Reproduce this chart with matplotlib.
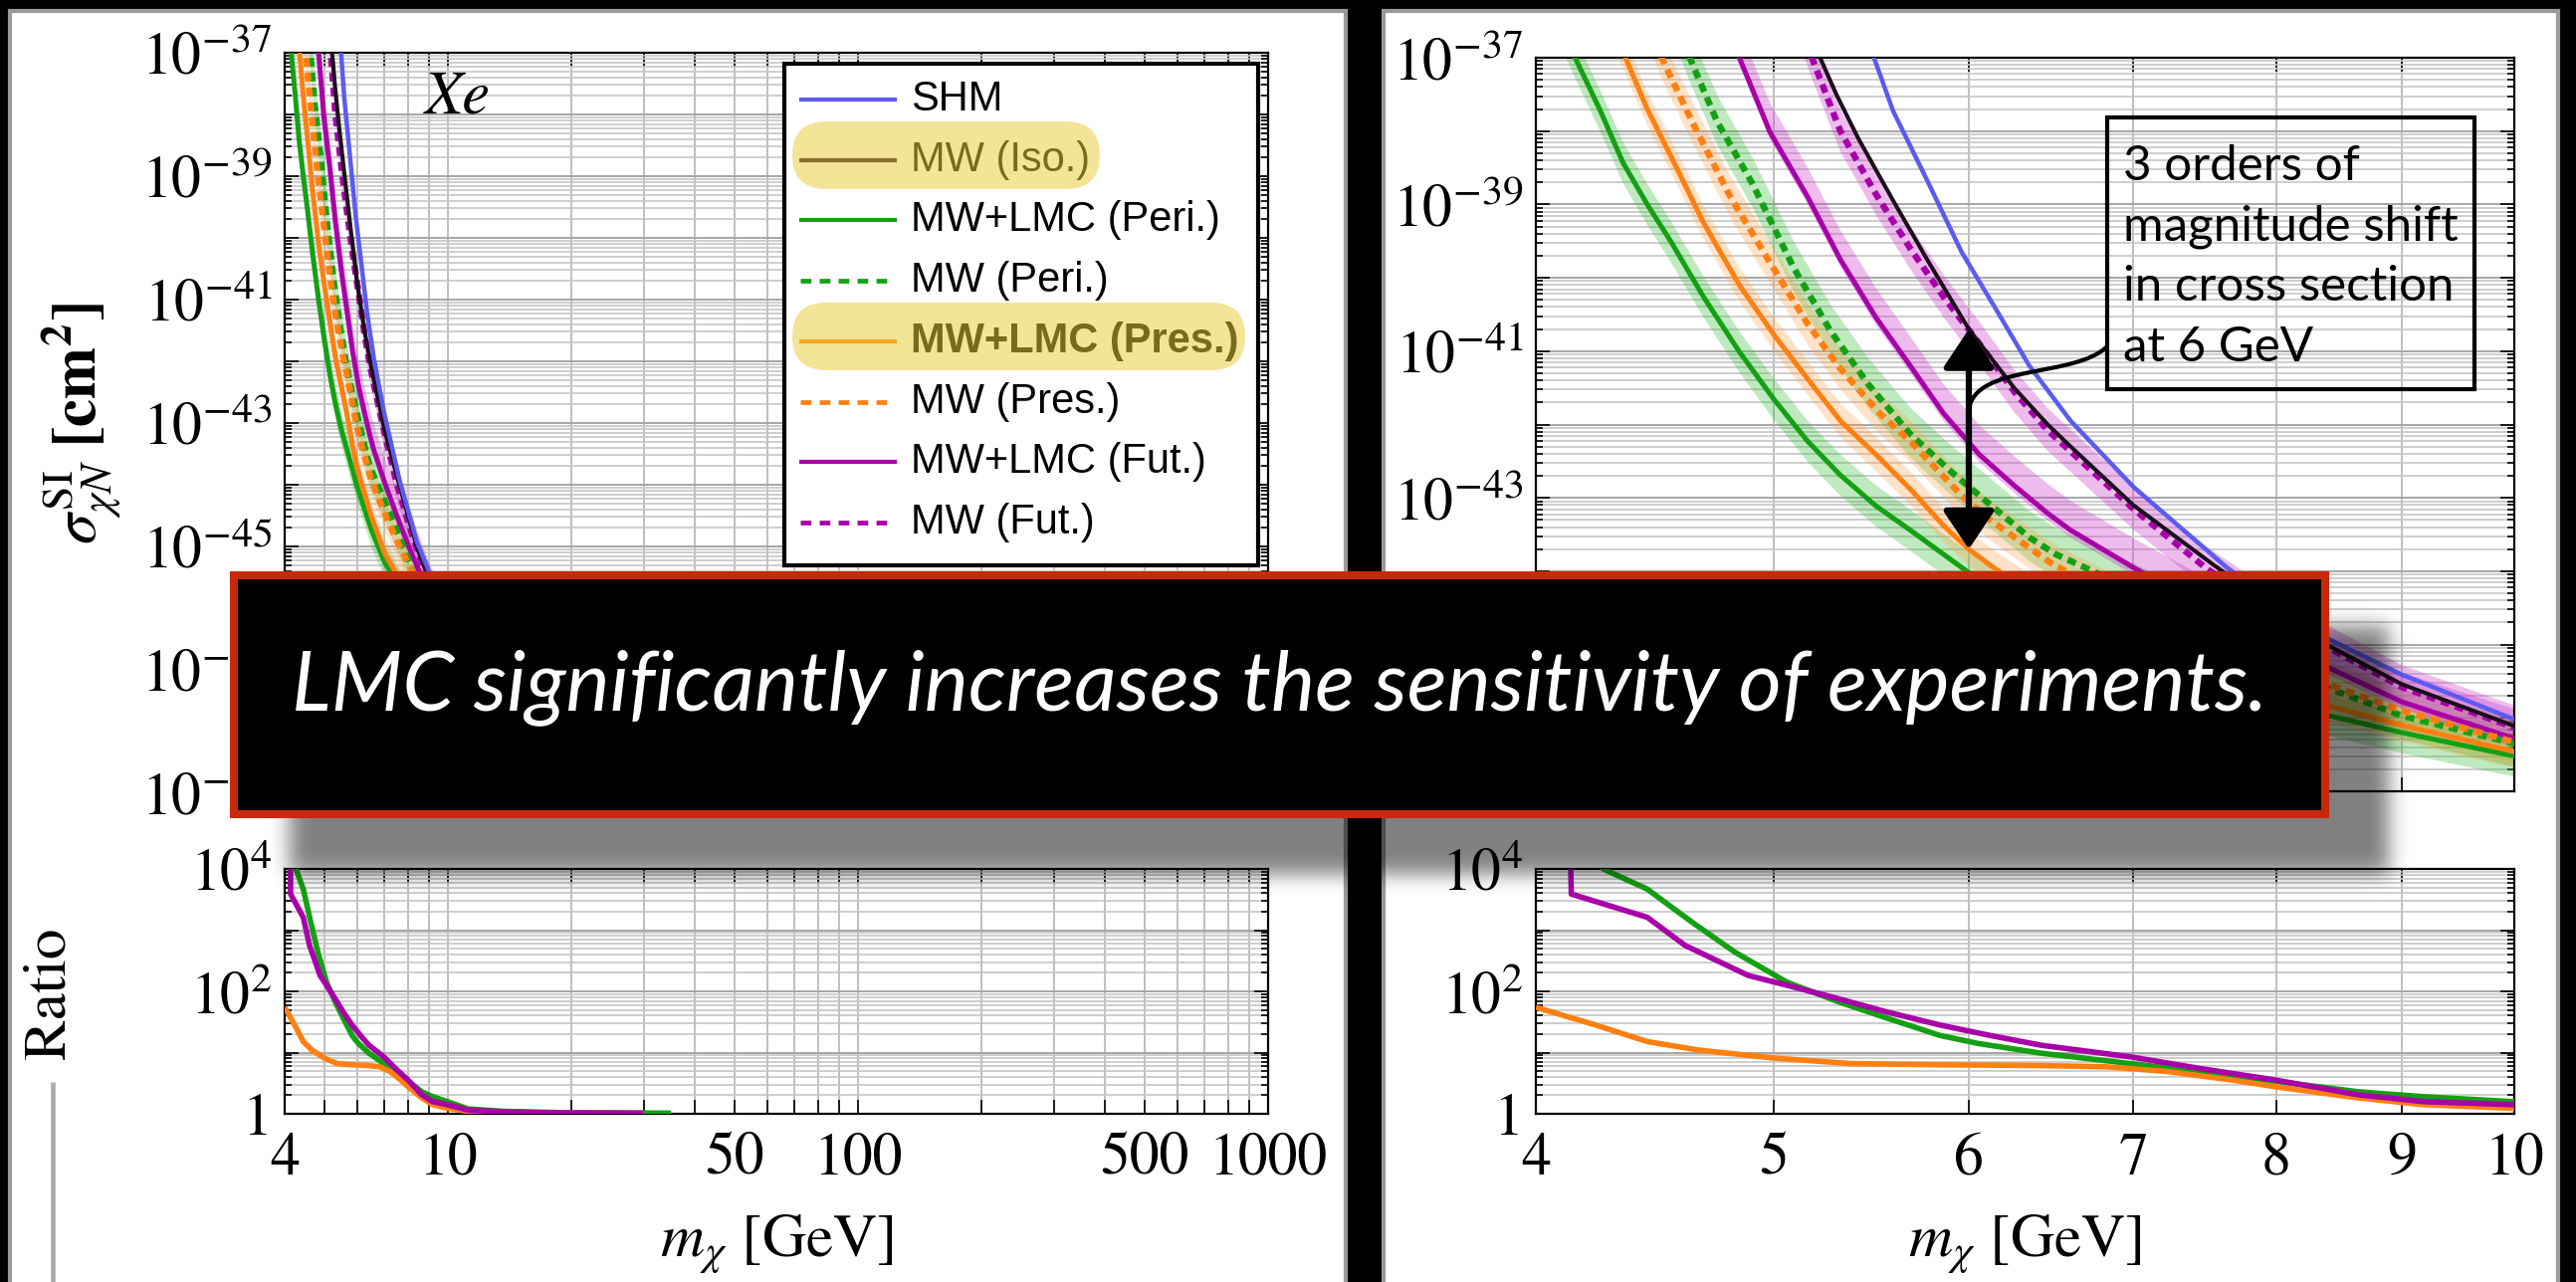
import numpy as np
import matplotlib
matplotlib.use("Agg")
import matplotlib.pyplot as plt
from matplotlib.patches import Rectangle, FancyBboxPatch, PathPatch
from matplotlib.path import Path
from matplotlib.ticker import FixedLocator, NullLocator, FuncFormatter, NullFormatter

plt.rcParams['mathtext.fontset'] = 'stix'
plt.rcParams['font.family'] = ['STIXGeneral', 'DejaVu Sans']
plt.rcParams['lines.scale_dashes'] = False
plt.rcParams['lines.solid_capstyle'] = 'butt'

# ---------------------------------------------------------------------------
# Exclusion limits, log10(sigma_SI / cm^2) against m_chi [GeV]
# ---------------------------------------------------------------------------
shm_m = [5.44, 5.49, 5.59, 5.77, 5.96, 6.16, 6.35, 6.6, 7.0, 7.64, 8.41, 9.0, 10.0, 12, 20, 35, 100, 1000]
shm_s = [-36.6, -37.0, -37.73, -38.67, -39.65, -40.45, -41.2, -41.95, -42.85, -43.95, -44.93, -45.41,
         -46.02, -46.55, -47.05, -47.15, -46.9, -45.95]

iso_m = [5.17, 5.22, 5.3, 5.41, 5.59, 5.77, 6.0, 6.26, 6.46, 6.6, 7.0, 7.55, 8.41, 9.0, 10.0, 12, 20, 35, 100, 1000]
iso_s = [-36.6, -37.0, -37.5, -38.1, -38.95, -39.75, -40.7, -41.5, -42.0, -42.3, -43.1, -43.92, -45.02,
         -45.54, -46.11, -46.62, -47.08, -47.17, -46.92, -45.97]

peri_lmc_m = [4.1, 4.15, 4.25, 4.34, 4.44, 4.54, 4.68, 4.84, 5.0, 5.16, 5.32, 5.5, 5.68, 5.86, 6.0, 6.5,
              7.0, 7.5, 8.0, 8.41, 9.0, 10.0, 12, 20, 35, 100, 1000]
peri_lmc_s = [-36.6, -37.0, -37.73, -38.43, -39.0, -39.51, -40.26, -41.01, -41.66, -42.23, -42.69, -43.11,
              -43.44, -43.77, -44.02, -44.72, -45.25, -45.58, -45.8, -45.97, -46.2, -46.52, -46.85, -47.15,
              -47.19, -46.94, -45.97]

peri_mw_m = [4.57, 4.62, 4.74, 4.9, 5.09, 5.27, 5.46, 5.68, 5.9, 6.06, 6.35, 6.51, 7.0, 7.5, 8.0, 8.41,
             9.0, 10.0, 12, 20, 35, 100, 1000]
peri_mw_s = [-36.6, -37.0, -37.87, -38.72, -39.85, -40.72, -41.45, -42.13, -42.64, -42.97, -43.54, -43.77,
             -44.25, -44.73, -45.19, -45.6, -45.97, -46.35, -46.75, -47.12, -47.18, -46.93, -45.97]

pres_lmc_m = [4.3, 4.35, 4.44, 4.54, 4.61, 4.68, 4.84, 5.0, 5.16, 5.32, 5.5, 5.68, 5.86, 6.0, 6.14, 6.5,
              7.0, 7.5, 8.0, 8.41, 9.0, 10.0, 12, 20, 35, 100, 1000]
pres_lmc_s = [-36.6, -37.0, -37.7, -38.35, -38.8, -39.25, -40.1, -40.78, -41.38, -41.95, -42.41, -42.88,
              -43.38, -43.7, -43.95, -44.5, -45.1, -45.45, -45.68, -45.84, -46.1, -46.46, -46.8, -47.14,
              -47.19, -46.94, -45.97]

pres_mw_m = [4.45, 4.5, 4.63, 4.8, 4.98, 5.16, 5.32, 5.52, 5.68, 5.96, 6.12, 6.35, 6.5, 7.0, 7.5, 8.0,
             8.41, 9.0, 10.0, 12, 20, 35, 100, 1000]
pres_mw_s = [-36.6, -37.0, -37.87, -38.9, -39.79, -40.63, -41.24, -41.85, -42.23, -42.97, -43.3, -43.68,
             -43.92, -44.45, -44.9, -45.28, -45.55, -45.9, -46.33, -46.72, -47.11, -47.18, -46.93, -45.97]

fut_lmc_m = [4.79, 4.84, 4.98, 5.16, 5.32, 5.5, 5.68, 5.86, 6.06, 6.26, 6.46, 6.6, 7.0, 7.5, 8.0, 8.41,
             9.0, 10.0, 12, 20, 35, 100, 1000]
fut_lmc_s = [-36.6, -37.0, -38.01, -38.9, -39.75, -40.54, -41.2, -41.85, -42.41, -42.83, -43.21, -43.44,
             -43.95, -44.5, -44.98, -45.32, -45.78, -46.28, -46.68, -47.1, -47.18, -46.93, -45.97]

fut_mw_m = [5.13, 5.18, 5.32, 5.5, 5.68, 5.86, 6.06, 6.26, 6.46, 7.0, 7.5, 8.0, 8.41, 9.0, 10.0, 12, 20,
            35, 100, 1000]
fut_mw_s = [-36.6, -37.0, -38.0, -38.86, -39.6, -40.26, -40.9, -41.55, -42.08, -43.15, -43.97, -44.6,
            -45.05, -45.58, -46.13, -46.64, -47.09, -47.17, -46.92, -45.97]

# uncertainty bands: decades below / above each limit
peri_lmc_band = (0.28, 0.28)
peri_mw_band = (0.32, 0.36)
pres_lmc_band = (0.22, 0.24)
pres_mw_band = (0.28, 0.28)
fut_lmc_band = (0.10, 0.40)
fut_mw_band = (0.28, 0.30)

# ratio MW / (MW+LMC), log10
ratio_peri_m = [4.2, 4.26, 4.44, 4.63, 4.82, 5.06, 5.31, 5.56, 5.84, 6.05, 6.42, 6.98, 7.45, 8.0, 8.64,
                9.18, 9.97, 11.2, 13.7, 18.7, 35.0]
ratio_peri = [4.4, 4.0, 3.67, 3.13, 2.64, 2.15, 1.83, 1.56, 1.28, 1.15, 0.99, 0.82, 0.69, 0.53, 0.36,
              0.28, 0.2, 0.08, 0.04, 0.02, 0.01]
ratio_pres_m = [4.0, 4.23, 4.44, 4.66, 5.0, 5.37, 5.84, 6.34, 6.81, 7.23, 7.68, 8.0, 8.64, 9.18, 9.97,
                11.2, 13.7, 20.0, 30.0]
ratio_pres = [1.74, 1.45, 1.18, 1.04, 0.91, 0.82, 0.8, 0.79, 0.77, 0.69, 0.55, 0.44, 0.26, 0.15, 0.09,
              0.04, 0.02, 0.01, 0.005]
ratio_fut_m = [4.13, 4.135, 4.44, 4.6, 4.88, 5.06, 5.31, 5.56, 5.84, 6.12, 6.42, 6.98, 7.45, 8.0, 8.64,
               9.18, 9.97, 11.2, 13.7, 18.7, 30.0]
ratio_fut = [4.6, 3.59, 3.21, 2.75, 2.26, 2.1, 1.88, 1.66, 1.45, 1.28, 1.12, 0.93, 0.74, 0.55, 0.31,
             0.2, 0.15, 0.06, 0.03, 0.015, 0.01]

legend_labels = ['SHM', 'MW (Iso.)', 'MW+LMC (Peri.)', 'MW (Peri.)', 'MW+LMC (Pres.)', 'MW (Pres.)',
                 'MW+LMC (Fut.)', 'MW (Fut.)']
note_lines = ['3 orders of', 'magnitude shift', 'in cross section', 'at 6 GeV']
banner = 'LMC significantly increases the sensitivity of experiments.'

# ---------------------------------------------------------------------------
C_SHM = '#5b5bf2'
C_ISO = '#1a0f1a'
C_GRN = '#14a014'
C_ORG = '#ff8010'
C_MAG = '#a800a8'

W, H = 2588, 1288
fig = plt.figure(figsize=(W / 100, H / 100), dpi=100, facecolor='black')


def frac(x0, y0, x1, y1):
    return [x0 / W, 1 - y1 / H, (x1 - x0) / W, (y1 - y0) / H]


bg = fig.add_axes([0, 0, 1, 1], zorder=0)
bg.set_xlim(0, W)
bg.set_ylim(H, 0)
bg.axis('off')
bg.add_patch(Rectangle((10, 11), 1342, 1290, fc='white', ec='#9a9a9a', lw=3))
bg.add_patch(Rectangle((1390, 11), 1180, 1290, fc='white', ec='#9a9a9a', lw=3))
bg.plot([53, 53], [1087, 1288], color='#aaaaaa', lw=3.3)

ax_l = fig.add_axes(frac(286, 53, 1274, 797), zorder=1)
ax_lr = fig.add_axes(frac(286, 873, 1274, 1119), zorder=1)
ax_r = fig.add_axes(frac(1543, 58, 2526, 795), zorder=1)
ax_rr = fig.add_axes(frac(1543, 873, 2526, 1119), zorder=1)

TICK_FS = 43


def log_fmt(shown):
    def f(v, pos):
        e = int(round(np.log10(v)))
        if e not in shown:
            return ''
        return '1' if e == 0 else r'$10^{%d}$' % e
    return FuncFormatter(f)


def style(ax, xlim, xticks, xlabels, ylo, yhi, ylab_exps, xgrid):
    ax.set_xscale('log')
    ax.set_yscale('log')
    ax.set_xlim(*xlim)
    ax.set_ylim(10.0 ** ylo, 10.0 ** yhi)
    ax.xaxis.set_major_locator(FixedLocator(xticks))
    ax.xaxis.set_minor_locator(NullLocator())
    if xlabels is None:
        ax.xaxis.set_major_formatter(NullFormatter())
    else:
        ax.xaxis.set_major_formatter(FuncFormatter(
            lambda v, p: xlabels.get(int(round(v)), '') if abs(v - round(v)) < 1e-6 else ''))
    ax.yaxis.set_major_locator(FixedLocator([10.0 ** e for e in range(ylo, yhi + 1)]))
    ax.yaxis.set_minor_locator(FixedLocator([k * 10.0 ** e for e in range(ylo, yhi) for k in range(2, 10)]))
    ax.yaxis.set_major_formatter(log_fmt(ylab_exps))
    ax.yaxis.set_minor_formatter(NullFormatter())
    ax.tick_params(which='both', direction='in', top=True, right=True, color='black', width=1.2,
                   labelsize=TICK_FS)
    ax.tick_params(which='major', length=10, pad=9)
    ax.tick_params(which='minor', length=5)
    ax.tick_params(axis='x', pad=14)
    ax.set_axisbelow(True)
    ax.grid(True, which='major', axis='y', color='#a6a6a6', lw=1.4)
    ax.grid(True, which='minor', axis='y', color='#c6c6c6', lw=1.2)
    for xv in xgrid:
        ax.axvline(xv, color='#b4b4b4', lw=1.2, zorder=0.5)
    for sp in ax.spines.values():
        sp.set_linewidth(1.6)
        sp.set_color('black')


left_ticks = [4, 5, 6, 7, 8, 9, 10, 20, 30, 40, 50, 60, 70, 80, 90, 100, 200, 300, 400, 500, 600, 700,
              800, 900, 1000]
left_labels = {4: '4', 10: '10', 50: '50', 100: '100', 500: '500', 1000: '1000'}
right_ticks = [4, 5, 6, 7, 8, 9, 10]
right_labels = {k: str(k) for k in right_ticks}

style(ax_l, (4, 1000), left_ticks, None, -49, -37, [-49, -47, -45, -43, -41, -39, -37], left_ticks[1:-1])
style(ax_lr, (4, 1000), left_ticks, left_labels, 0, 4, [0, 2, 4], left_ticks[1:-1])
style(ax_r, (4, 10), right_ticks, None, -47, -37, [-43, -41, -39, -37], right_ticks[1:-1])
style(ax_rr, (4, 10), right_ticks, right_labels, 0, 4, [0, 2, 4], right_ticks[1:-1])

bands = [
    (peri_mw_m, peri_mw_s, peri_mw_band, '#38bd38', 0.32),
    (pres_mw_m, pres_mw_s, pres_mw_band, '#ffa24a', 0.30),
    (fut_mw_m, fut_mw_s, fut_mw_band, '#cc3ccc', 0.34),
    (peri_lmc_m, peri_lmc_s, peri_lmc_band, '#38bd38', 0.32),
    (pres_lmc_m, pres_lmc_s, pres_lmc_band, '#ffa24a', 0.30),
    (fut_lmc_m, fut_lmc_s, fut_lmc_band, '#cc3ccc', 0.34),
]
lines = [
    (peri_lmc_m, peri_lmc_s, C_GRN, 'solid', 3.6),
    (pres_lmc_m, pres_lmc_s, C_ORG, 'solid', 3.6),
    (fut_lmc_m, fut_lmc_s, C_MAG, 'solid', 3.6),
    (peri_mw_m, peri_mw_s, C_GRN, 'dash', 4.6),
    (pres_mw_m, pres_mw_s, C_ORG, 'dash', 4.6),
    (fut_mw_m, fut_mw_s, C_MAG, 'dash', 4.6),
    (iso_m, iso_s, C_ISO, 'solid', 2.9),
    (shm_m, shm_s, C_SHM, 'solid', 3.2),
]

for ax in (ax_l, ax_r):
    for m, s, (dn, up), c, a in bands:
        s = np.asarray(s)
        ax.fill_between(m, 10.0 ** (s - dn), 10.0 ** (s + up), color=c, alpha=a, lw=0, zorder=2)
    for m, s, c, kind, lw in lines:
        y = 10.0 ** np.asarray(s)
        if kind == 'dash':
            ax.plot(m, y, color=c, lw=lw, dashes=(6.4, 4.4), zorder=3)
        else:
            ax.plot(m, y, color=c, lw=lw, zorder=3)

for ax in (ax_lr, ax_rr):
    ax.plot(ratio_peri_m, 10.0 ** np.asarray(ratio_peri), color=C_GRN, lw=4.0, zorder=3)
    ax.plot(ratio_pres_m, 10.0 ** np.asarray(ratio_pres), color=C_ORG, lw=4.0, zorder=3)
    ax.plot(ratio_fut_m, 10.0 ** np.asarray(ratio_fut), color=C_MAG, lw=4.0, zorder=3)

# arrow showing the shift at 6 GeV, between MW (Iso.) and MW+LMC (Pres.)
m_arrow = 6.0
top = 10.0 ** np.interp(np.log10(m_arrow), np.log10(iso_m), iso_s)
bot = 10.0 ** np.interp(np.log10(m_arrow), np.log10(pres_lmc_m), pres_lmc_s)
ax_r.annotate('', xy=(m_arrow, top), xytext=(m_arrow, bot),
              arrowprops=dict(arrowstyle='<|-|>,head_length=1.2,head_width=0.8', mutation_scale=20,
                              lw=4.5, color='black', shrinkA=0, shrinkB=0), zorder=5)

# ---------------------------------------------------------------------------
# overlay layer in pixel coordinates
ov = fig.add_axes([0, 0, 1, 1], zorder=10)
ov.patch.set_alpha(0)
ov.axis('off')

ov.text(427, 113, 'Xe', fontsize=45, style='italic', family='STIXGeneral', va='baseline', ha='left')

ov.text(82, 425, r'$\sigma^{\rm SI}_{\chi N}\ \mathbf{[cm^2]}$', fontsize=45, rotation=90,
        ha='center', va='center')
ov.text(50, 998, 'Ratio', fontsize=44, rotation=90, ha='center', va='center', family='STIXGeneral')
ov.text(780, 1251, r'$m_\chi$ [GeV]', fontsize=44, ha='center', va='center', family='STIXGeneral')
ov.text(2034, 1251, r'$m_\chi$ [GeV]', fontsize=44, ha='center', va='center', family='STIXGeneral')

# legend
ov.add_patch(Rectangle((788, 64), 476, 504, fc='white', ec='black', lw=3.0, zorder=4))
leg_styles = [(C_SHM, 'solid'), (C_ISO, 'solid'), (C_GRN, 'solid'), (C_GRN, 'dash'), (C_ORG, 'solid'),
              (C_ORG, 'dash'), (C_MAG, 'solid'), (C_MAG, 'dash')]
for i, (lab, (c, kind)) in enumerate(zip(legend_labels, leg_styles)):
    yy = 100 + 60.7 * i
    if kind == 'dash':
        ov.plot([804, 897], [yy, yy], color=c, lw=3.4, dashes=(7.7, 6.0), zorder=5)
    else:
        ov.plot([803, 901], [yy, yy], color=c, lw=3.0, zorder=5)
    ov.text(915, yy + 11, lab, fontsize=30, family='Liberation Sans', va='baseline', ha='left',
            weight='bold' if lab == 'MW+LMC (Pres.)' else 'normal', zorder=5)
hl = (235 / 255, 204 / 255, 58 / 255, 0.52)
ov.add_patch(FancyBboxPatch((796, 122), 309, 68, boxstyle='round,pad=0,rounding_size=34',
                            fc=hl, ec='none', zorder=6))
ov.add_patch(FancyBboxPatch((796, 304), 455, 68, boxstyle='round,pad=0,rounding_size=34',
                            fc=hl, ec='none', zorder=6))

# annotation box and its connector
ov.add_patch(Rectangle((2117, 118), 369, 273, fc='none', ec='black', lw=3.0, zorder=4))
for i, line in enumerate(note_lines):
    ov.text(2133, 181 + 60.5 * i, line, fontsize=35.5, family='Lato', va='baseline', ha='left', zorder=5)
x6 = ax_r.transData.transform((m_arrow, 10.0 ** -41.8))
px0, py0 = x6[0], H - x6[1]
conn = Path([(px0, py0), (px0 + 6, 365), (2085, 380), (2117, 348)],
            [Path.MOVETO, Path.CURVE4, Path.CURVE4, Path.CURVE4])
ov.add_patch(PathPatch(conn, fc='none', ec='black', lw=3.0, zorder=5))

# banner with soft drop shadow
sx0, sy0, sx1, sy1 = 291, 629, 2400, 878
padp = 40
gx = np.arange(sx0 - padp, sx1 + padp)
gy = np.arange(sy0 - padp, sy1 + padp)
mask = (((gx[None, :] >= sx0) & (gx[None, :] < sx1)) & ((gy[:, None] >= sy0) & (gy[:, None] < sy1))).astype(float)
kern = np.exp(-0.5 * (np.arange(-30, 31) / 10.0) ** 2)
kern /= kern.sum()
mask = np.apply_along_axis(lambda r: np.convolve(r, kern, mode='same'), 1, mask)
mask = np.apply_along_axis(lambda c: np.convolve(c, kern, mode='same'), 0, mask)
img = np.zeros(mask.shape + (4,))
img[..., 3] = 0.5 * mask
ov.imshow(img, extent=(gx[0], gx[-1] + 1, gy[-1] + 1, gy[0]), interpolation='bilinear', zorder=7)
ov.add_patch(Rectangle((235, 578), 2101, 240, fc='black', ec='#c8280c', lw=5.8, zorder=8))
bt = ov.text(1285.5, 713, banner, fontsize=58, family='Lato', style='italic', color='white',
             ha='center', va='baseline', zorder=9)

ov.set_aspect('auto')
ov.set_xlim(0, W)
ov.set_ylim(H, 0)

fig.canvas.draw()
bw = bt.get_window_extent().width
bt.set_fontsize(58 * 1984 / bw)

fig.savefig('out.png', dpi=100, facecolor='black')
